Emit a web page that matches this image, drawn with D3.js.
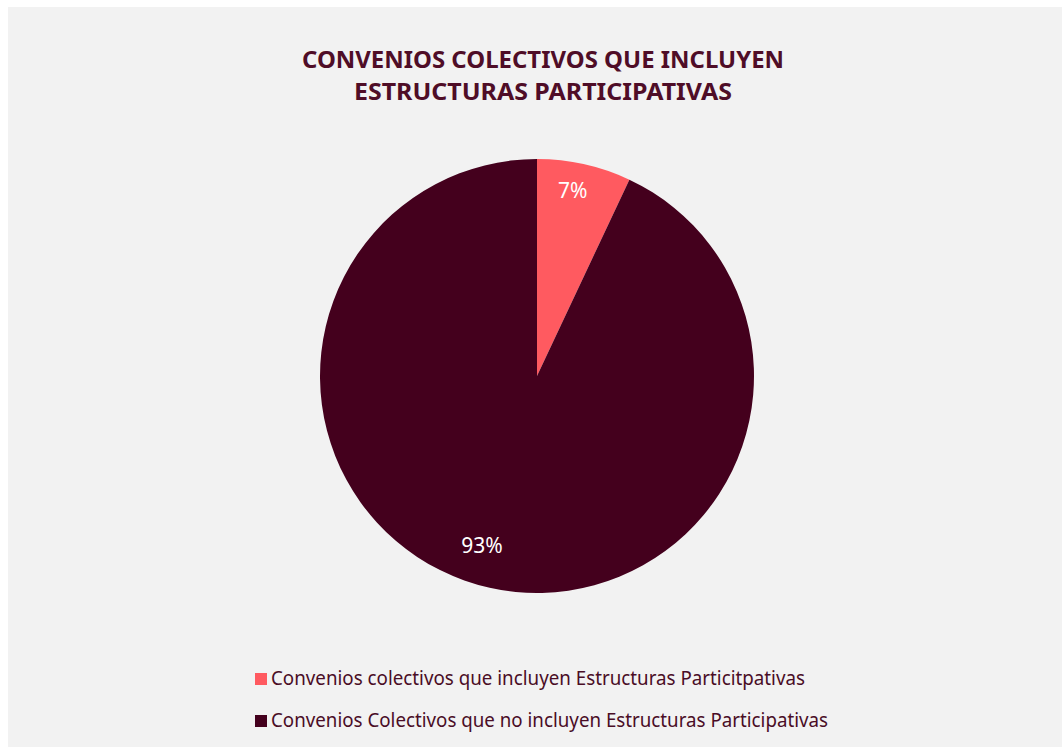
<!DOCTYPE html>
<html>
<head>
<meta charset="utf-8">
<script src="https://cdn.jsdelivr.net/npm/d3@7"></script>
<style>
  html, body { margin: 0; padding: 0; background: #ffffff; }
  svg { display: block; }
</style>
</head>
<body>
<div id="chart"></div>
<script>
// Data
const categories = [
  "Convenios colectivos que incluyen Estructuras Particitpativas",
  "Convenios Colectivos que no incluyen Estructuras Participativas"
];
const values = [7, 93];
const labels = ["7%", "93%"];
const colors = ["#ff5a60", "#44001d"];
const titleLines = ["CONVENIOS COLECTIVOS QUE INCLUYEN", "ESTRUCTURAS PARTICIPATIVAS"];

const W = 1062, H = 747;
const svg = d3.select("#chart").append("svg")
  .attr("width", W).attr("height", H);

// Panel background
svg.append("rect")
  .attr("x", 8).attr("y", 7)
  .attr("width", W - 8).attr("height", H - 7)
  .attr("fill", "#f2f2f2");

// Title
const titleFont = "'Noto Sans', 'Open Sans', sans-serif";
const titleWidths = [482, 378];
svg.append("g").selectAll("text")
  .data(titleLines)
  .join("text")
  .attr("x", 543)
  .attr("y", (d, i) => 68 + i * 32)
  .attr("text-anchor", "middle")
  .attr("font-family", titleFont)
  .attr("font-weight", "bold")
  .attr("font-size", 24)
  .attr("fill", "#4f0d27")
  .attr("textLength", (d, i) => titleWidths[i])
  .attr("lengthAdjust", "spacingAndGlyphs")
  .text(d => d);

// Pie
const cx = 537, cy = 376, r = 217;
const pie = d3.pie().sort(null).value(d => d)(values);
const arc = d3.arc().innerRadius(0).outerRadius(r);
const g = svg.append("g").attr("transform", `translate(${cx},${cy})`);

g.selectAll("path")
  .data(pie)
  .join("path")
  .attr("d", arc)
  .attr("fill", (d, i) => colors[i]);

// Slice labels: placed along each slice's mid angle, nudged for best fit
const labelRadius = [0.87, 0.82];
const labelTurn = [-0.03, 0.095]; // radians
g.selectAll("text")
  .data(pie)
  .join("text")
  .attr("transform", (d, i) => {
    const a = (d.startAngle + d.endAngle) / 2 + labelTurn[i];
    const rr = r * labelRadius[i];
    return `translate(${Math.sin(a) * rr},${-Math.cos(a) * rr})`;
  })
  .attr("text-anchor", "middle")
  .attr("dy", "0.35em")
  .attr("font-family", "'Noto Sans', sans-serif")
  .attr("font-size", 21)
  .attr("fill", "#ffffff")
  .text((d, i) => labels[i]);

// Legend
const legendWidths = [534, 557];
const legend = svg.append("g").selectAll("g")
  .data(categories)
  .join("g")
  .attr("transform", (d, i) => `translate(255, ${673 + i * 42})`);

legend.append("rect")
  .attr("width", 12).attr("height", 12)
  .attr("fill", (d, i) => colors[i]);

legend.append("text")
  .attr("x", 16)
  .attr("y", 12)
  .attr("font-family", "'Noto Sans', sans-serif")
  .attr("font-size", 19)
  .attr("fill", "#4a0d26")
  .attr("textLength", (d, i) => legendWidths[i])
  .attr("lengthAdjust", "spacingAndGlyphs")
  .text(d => d);
</script>
</body>
</html>
